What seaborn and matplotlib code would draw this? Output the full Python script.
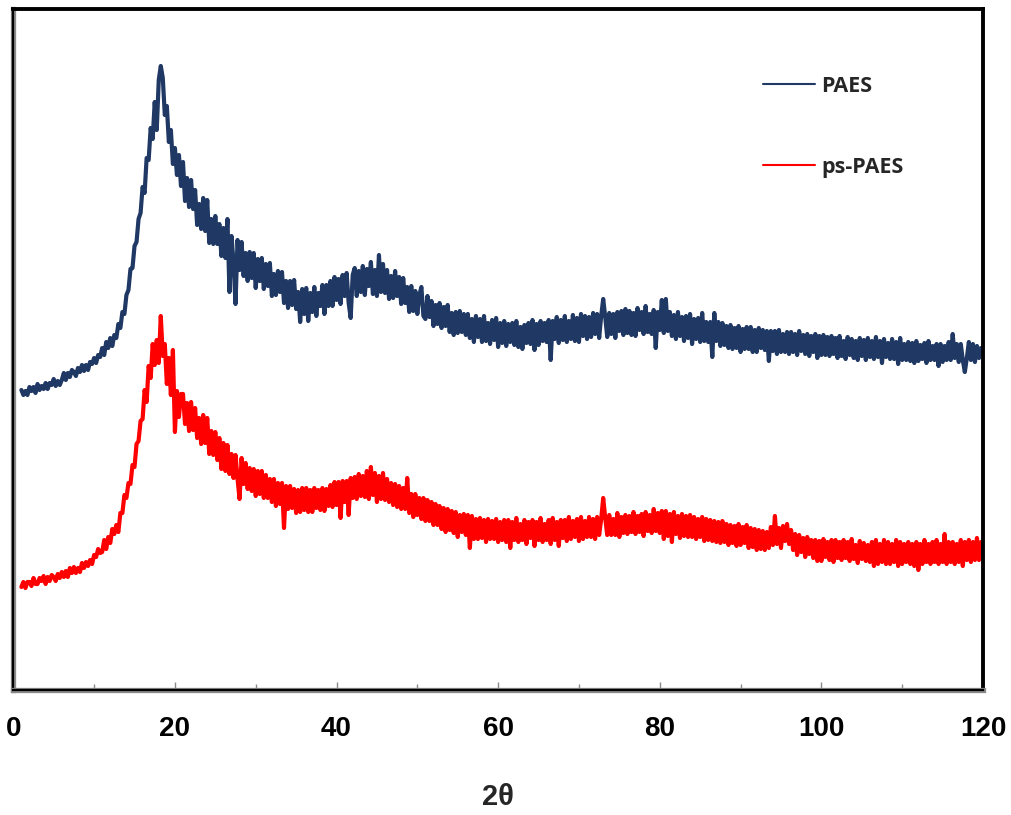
import numpy as np
import pandas as pd
import matplotlib
matplotlib.use("Agg")
import matplotlib.pyplot as plt
from matplotlib import patheffects as pe
from matplotlib.ticker import MultipleLocator
import seaborn as sns

# Scan grid (degrees 2-theta, 0.25 deg step)
two_theta = np.arange(1.0, 120.001, 0.25)

# Diffracted intensity, arbitrary units (stacked traces)
paes = np.array([
    298, 293, 297, 293, 301, 297, 301, 295, 304, 298, 302, 299, 305, 299, 305, 303, 309, 302, 307, 303,
    308, 315, 308, 315, 311, 318, 316, 312, 320, 316, 323, 317, 323, 318, 326, 324, 330, 325, 333, 331,
    340, 333, 346, 340, 350, 342, 353, 350, 364, 360, 376, 374, 393, 398, 419, 420, 442, 446, 469, 475,
    501, 495, 530, 528, 560, 549, 586, 558, 608, 622, 610, 573, 582, 546, 558, 524, 540, 513, 533, 502,
    526, 487, 510, 481, 508, 479, 498, 463, 484, 459, 490, 457, 488, 445, 469, 444, 472, 444, 464, 432,
    460, 430, 469, 396, 452, 426, 384, 448, 418, 446, 412, 435, 407, 436, 410, 435, 400, 429, 407, 430,
    399, 424, 402, 425, 392, 414, 393, 417, 396, 416, 385, 407, 380, 407, 383, 408, 379, 396, 366, 399,
    374, 400, 367, 395, 376, 401, 372, 395, 382, 403, 374, 403, 382, 407, 382, 411, 388, 409, 384, 413,
    392, 415, 385, 370, 413, 420, 392, 417, 396, 422, 393, 419, 402, 426, 394, 418, 392, 433, 396, 424,
    395, 418, 389, 412, 390, 417, 392, 411, 384, 410, 385, 401, 376, 402, 377, 397, 374, 393, 401, 372,
    369, 392, 371, 387, 362, 383, 364, 385, 360, 381, 362, 383, 356, 375, 353, 376, 355, 377, 356, 374,
    353, 374, 350, 369, 346, 372, 351, 369, 346, 372, 347, 365, 344, 368, 348, 370, 341, 365, 345, 367,
    342, 364, 346, 365, 343, 367, 341, 361, 339, 363, 345, 365, 344, 368, 338, 364, 343, 367, 347, 365,
    346, 368, 328, 367, 349, 371, 345, 368, 348, 372, 346, 367, 349, 373, 347, 370, 346, 374, 352, 372,
    349, 371, 351, 375, 354, 374, 350, 372, 389, 371, 351, 375, 354, 374, 350, 376, 357, 377, 353, 379,
    355, 377, 353, 375, 352, 380, 358, 376, 354, 382, 356, 374, 354, 378, 340, 376, 358, 388, 355, 389,
    357, 376, 352, 373, 349, 376, 352, 371, 347, 372, 350, 374, 344, 369, 349, 370, 346, 375, 347, 366,
    346, 366, 331, 375, 347, 366, 342, 365, 343, 362, 340, 363, 339, 360, 340, 362, 336, 359, 339, 361,
    339, 361, 336, 358, 336, 360, 340, 358, 338, 357, 327, 357, 337, 357, 334, 358, 336, 354, 336, 356,
    334, 356, 336, 354, 333, 357, 337, 353, 334, 354, 332, 352, 336, 354, 330, 352, 333, 353, 333, 351,
    332, 352, 334, 350, 330, 352, 332, 347, 329, 351, 333, 349, 330, 347, 328, 350, 332, 348, 328, 350,
    331, 347, 329, 351, 331, 347, 325, 349, 331, 345, 329, 349, 329, 346, 324, 350, 328, 344, 328, 346,
    327, 345, 325, 347, 327, 343, 329, 345, 325, 347, 328, 342, 328, 344, 322, 344, 326, 342, 328, 346,
    328, 354, 330, 344, 326, 344, 328, 316, 330, 346, 328, 344, 326, 342, 330, 340, 336,
])

ps_paes = np.array([
    101, 106, 100, 106, 106, 102, 110, 104, 104, 110, 107, 112, 104, 111, 107, 113, 111, 107, 114, 110,
    116, 111, 117, 111, 120, 115, 121, 115, 120, 116, 125, 120, 126, 122, 128, 124, 133, 131, 139, 135,
    136, 148, 139, 151, 145, 159, 154, 163, 156, 175, 175, 193, 190, 205, 204, 223, 221, 244, 247, 267,
    269, 298, 286, 322, 310, 344, 323, 348, 325, 372, 332, 344, 304, 330, 293, 338, 256, 297, 271, 294,
    294, 264, 285, 257, 286, 258, 280, 250, 270, 244, 273, 245, 270, 234, 257, 233, 256, 228, 250, 219,
    245, 217, 243, 214, 234, 210, 233, 209, 189, 230, 204, 225, 199, 220, 197, 219, 192, 217, 194, 217,
    190, 213, 190, 209, 186, 209, 182, 205, 184, 205, 160, 202, 179, 202, 180, 199, 175, 198, 176, 200,
    178, 200, 176, 198, 176, 200, 180, 198, 178, 200, 177, 199, 182, 203, 181, 206, 183, 206, 170, 207,
    186, 207, 173, 210, 190, 211, 189, 214, 192, 212, 191, 217, 189, 221, 193, 215, 186, 212, 189, 215,
    188, 209, 186, 205, 183, 204, 181, 202, 179, 200, 179, 210, 175, 194, 171, 194, 173, 190, 169, 190,
    167, 188, 167, 186, 163, 184, 163, 182, 159, 180, 156, 179, 158, 177, 155, 176, 151, 173, 156, 174,
    153, 173, 140, 172, 149, 169, 149, 170, 150, 168, 146, 169, 149, 167, 149, 169, 146, 166, 148, 168,
    146, 168, 140, 166, 148, 170, 146, 164, 148, 168, 144, 166, 150, 168, 142, 166, 148, 170, 146, 164,
    148, 168, 144, 170, 148, 166, 142, 168, 150, 168, 147, 171, 149, 167, 151, 169, 147, 171, 149, 167,
    151, 171, 151, 169, 149, 171, 153, 169, 190, 170, 153, 173, 153, 169, 153, 175, 151, 171, 155, 173,
    154, 172, 156, 176, 154, 172, 156, 174, 152, 176, 157, 173, 155, 179, 157, 175, 155, 177, 149, 177,
    152, 174, 146, 176, 154, 172, 150, 174, 152, 172, 151, 173, 151, 171, 149, 169, 151, 171, 147, 169,
    148, 168, 147, 167, 146, 166, 145, 167, 146, 164, 143, 163, 145, 162, 142, 164, 143, 161, 145, 163,
    140, 160, 141, 159, 138, 158, 139, 157, 138, 156, 140, 161, 143, 172, 144, 160, 140, 162, 147, 164,
    144, 158, 138, 154, 133, 153, 136, 150, 131, 151, 134, 148, 130, 148, 127, 147, 127, 149, 131, 146,
    128, 148, 126, 148, 130, 146, 128, 148, 130, 146, 127, 149, 129, 143, 125, 147, 129, 145, 127, 143,
    126, 146, 122, 148, 124, 144, 126, 148, 124, 146, 124, 144, 126, 148, 122, 146, 124, 144, 126, 146,
    124, 144, 122, 146, 118, 144, 124, 148, 126, 144, 124, 146, 126, 148, 124, 144, 126, 154, 124, 146,
    126, 146, 124, 144, 126, 148, 122, 146, 128, 148, 126, 146, 128, 150, 128, 146, 138,
])

series_labels = ["PAES", "ps-PAES"]
series_colors = ["#1F3864", "#FF0000"]
x_tick_values = [0, 20, 40, 60, 80, 100, 120]
x_label = "2θ"

sns.set_style("white")
plt.rcParams["font.family"] = ["Liberation Sans", "DejaVu Sans"]

n = len(two_theta)
df = pd.DataFrame({
    "two_theta": np.concatenate([two_theta, two_theta]),
    "intensity": np.concatenate([paes, ps_paes]),
    "sample": [series_labels[0]] * n + [series_labels[1]] * n,
})

fig = plt.figure(figsize=(10.11, 8.15), dpi=100)
ax = fig.add_axes([13.3 / 1011, 125 / 815, 969.7 / 1011, 681 / 815])

sns.lineplot(
    data=df, x="two_theta", y="intensity", hue="sample",
    palette=dict(zip(series_labels, series_colors)),
    linewidth=3.0, errorbar=None, ax=ax,
)
for line in ax.get_lines():
    line.set_solid_joinstyle("round")
    line.set_solid_capstyle("round")

ax.set_xlim(0, 120)
ax.set_ylim(-2, 679)
ax.set_yticks([])
ax.set_ylabel("")

ax.set_xticks(x_tick_values)
ax.xaxis.set_minor_locator(MultipleLocator(10))
ax.tick_params(axis="x", which="both", direction="in", bottom=True, top=False,
               color="#8a8a8a", width=1.0, labelcolor="black", labelsize=20, pad=19)
ax.tick_params(axis="x", which="major", length=5.5)
ax.tick_params(axis="x", which="minor", length=4)
for lbl in ax.get_xticklabels():
    lbl.set_fontweight("bold")

ax.set_xlabel(x_label, fontsize=21, fontweight="bold")
ax.xaxis.set_label_coords(0.5, -0.1366)

# Frame: heavy black top/right, black with grey edge on bottom/left
for side in ["top", "right"]:
    ax.spines[side].set_color("black")
    ax.spines[side].set_linewidth(2.8)
for side in ["bottom", "left"]:
    ax.spines[side].set_color("black")
    ax.spines[side].set_linewidth(1.6)
    ax.spines[side].set_path_effects([pe.Stroke(linewidth=3.8, foreground="#8a8a8a"), pe.Normal()])

handles, labels = ax.get_legend_handles_labels()
leg = ax.legend(
    handles, labels, loc="upper left",
    bbox_to_anchor=(763 / 1011, (815 - 76) / 815), bbox_transform=fig.transFigure,
    frameon=False, prop={"family": "Open Sans", "weight": "bold", "size": 15.5},
    handlelength=2.4, handletextpad=0.3, labelspacing=2.77,
    borderpad=0, borderaxespad=0,
)
for line in leg.get_lines():
    line.set_linewidth(1.5)

fig.savefig("out.png", dpi=100)
